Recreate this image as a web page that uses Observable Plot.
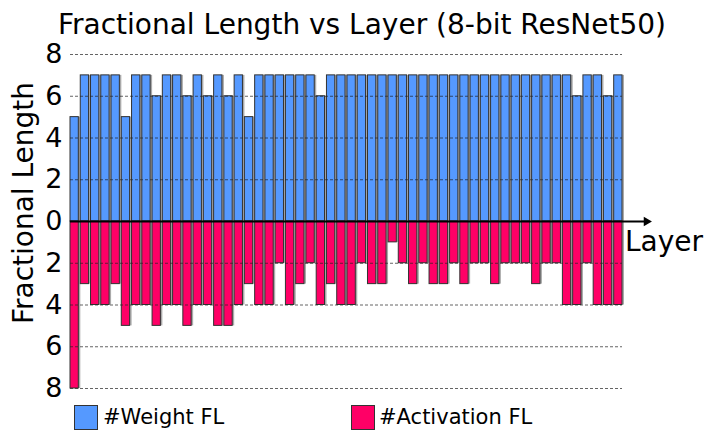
<!DOCTYPE html>
<html>
<head>
<meta charset="utf-8">
<script src="https://cdn.jsdelivr.net/npm/d3@7"></script>
<script src="https://cdn.jsdelivr.net/npm/@observablehq/plot@0.6"></script>
<style>
  body { margin: 0; background: #fff; font-family: "DejaVu Sans", sans-serif; }
  #wrap { position: relative; width: 715px; height: 443px; overflow: hidden; }
  #wrap svg { position: absolute; left: 0; top: 0; }
  .t { position: absolute; white-space: nowrap; color: #000; line-height: 1; }
  .sw { position: absolute; width: 22px; height: 23px; border: 1px solid #333; }
</style>
</head>
<body>
<div id="wrap">
  <div class="t" id="title" style="left:0;width:724px;text-align:center;top:10.5px;font-size:28px;">Fractional Length vs Layer (8-bit ResNet50)</div>
  <div class="t" id="ylab" style="left:24px;top:203px;font-size:28px;transform:translate(-50%,-50%) rotate(-90deg);">Fractional Length</div>
  <div class="t" id="xlab" style="left:625px;top:228px;font-size:28px;">Layer</div>
  <div class="sw" style="left:74px;top:405px;background:#5599ff;"></div>
  <div class="t" style="left:103px;top:407px;font-size:21px;">#Weight FL</div>
  <div class="sw" style="left:351px;top:405px;background:#ff0066;"></div>
  <div class="t" style="left:379px;top:407px;font-size:21px;">#Activation FL</div>
</div>
<script>
const layers = d3.range(1, 55);
const weightFL = [5,7,7,7,7,5,7,7,6,7,7,6,7,6,7,6,7,5,7,7,7,7,7,7,6,7,7,7,
                  7,7,7,7,7,7,7,7,7,7,7,7,7,7,7,7,7,7,7,7,7,6,7,7,6,7];
const activationFL = [8,3,4,4,3,5,4,4,5,4,4,5,4,4,5,5,4,3,4,4,2,4,3,2,4,3,4,4,
                      2,3,3,1,2,3,2,3,3,2,3,2,2,3,2,2,2,3,2,2,4,4,2,4,4,4];
const yTicks = [-8,-6,-4,-2,0,2,4,6,8];
const gridVals = [8,6,4,2,-2,-4,-6,-8];

const wData = layers.map((l, i) => ({layer: l, v: weightFL[i]}));
const aData = layers.map((l, i) => ({layer: l, v: -activationFL[i]}));

const chart = Plot.plot({
  width: 715,
  height: 443,
  marginLeft: 70,
  marginRight: 93,
  marginTop: 54,
  marginBottom: 55,
  style: {fontFamily: "DejaVu Sans, sans-serif", background: "transparent"},
  x: {type: "band", domain: layers, paddingInner: 0.19, paddingOuter: 0, round: false, axis: null},
  y: {domain: [-8, 8], ticks: yTicks, tickFormat: d => Math.abs(d)},
  marks: [
    Plot.barY(wData, {x: "layer", y1: 0, y2: "v", fill: "#aaa", dx: 2}),
    Plot.barY(aData, {x: "layer", y1: 0, y2: "v", fill: "#aaa", dx: 2}),
    Plot.barY(wData, {x: "layer", y1: 0, y2: "v", fill: "#5599ff", stroke: "#333", strokeWidth: 1}),
    Plot.barY(aData, {x: "layer", y1: 0, y2: "v", fill: "#ff0066", stroke: "#333", strokeWidth: 1}),
    Plot.ruleY(gridVals, {stroke: "#222", strokeDasharray: "3,2", strokeWidth: 1, strokeOpacity: 0.7}),
    Plot.ruleY([0], {stroke: "black", strokeWidth: 2, insetRight: -22}),
    Plot.dot([0], {y: d => d, frameAnchor: "right", dx: 24, symbol: "triangle", rotate: 90, r: 3.5, fill: "black", stroke: "none"}),
    Plot.axisY({ticks: yTicks, tickFormat: d => Math.abs(d), tickSize: 0, tickPadding: 8, fontSize: 27, label: null, fill: "black"})
  ]
});
document.getElementById("wrap").prepend(chart);
</script>
</body>
</html>
